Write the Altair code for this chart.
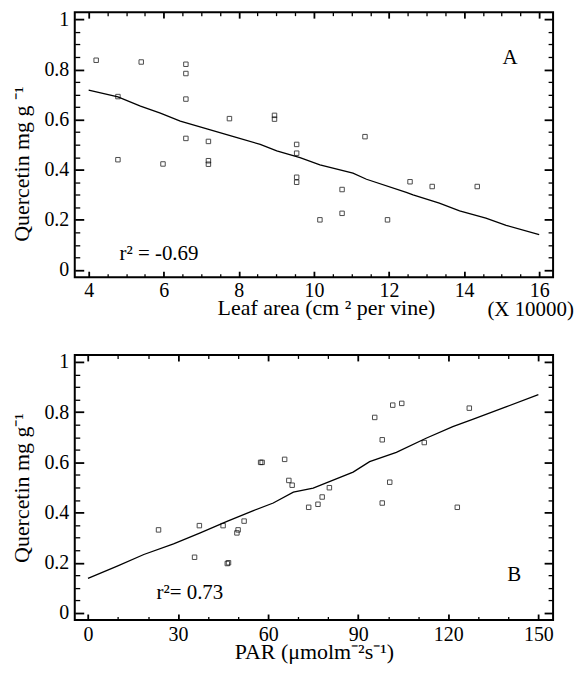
import altair as alt
import pandas as pd

# ---------------- Panel A data ----------------
leaf_area = [4.20, 5.40, 6.59, 6.59, 6.59, 6.59, 4.78, 4.78, 5.98, 7.19, 7.19, 7.19,
             7.75, 8.95, 8.95, 9.54, 9.54, 9.54, 9.54, 11.36, 10.75, 10.75, 10.16,
             11.96, 12.56, 13.15, 14.35]
quercetin_a = [0.837, 0.830, 0.821, 0.784, 0.682, 0.525, 0.692, 0.440, 0.423, 0.513,
               0.436, 0.422, 0.604, 0.617, 0.602, 0.501, 0.466, 0.370, 0.350, 0.532,
               0.321, 0.226, 0.200, 0.200, 0.352, 0.333, 0.333]
fit_a_x = [4.0, 4.78, 5.38, 5.91, 6.44, 7.15, 7.86, 8.57, 9.01, 9.63, 10.16, 11.04,
           11.40, 12.46, 12.64, 13.34, 13.88, 14.58, 15.12, 16.0]
fit_a_y = [0.718, 0.691, 0.654, 0.626, 0.594, 0.563, 0.532, 0.501, 0.475, 0.448,
           0.419, 0.386, 0.362, 0.310, 0.300, 0.267, 0.236, 0.207, 0.178, 0.141]

# ---------------- Panel B data ----------------
par = [23.5, 35.5, 37.1, 45.0, 46.4, 46.8, 49.6, 50.0, 52.0, 57.5, 58.0, 65.5, 66.9,
       68.0, 73.5, 76.6, 78.0, 80.4, 95.5, 98.0, 98.0, 100.5, 101.5, 104.5, 112.0,
       123.0, 127.0]
quercetin_b = [0.331, 0.222, 0.348, 0.348, 0.197, 0.200, 0.319, 0.331, 0.366, 0.600,
               0.600, 0.612, 0.528, 0.509, 0.421, 0.433, 0.462, 0.499, 0.779, 0.690,
               0.438, 0.521, 0.828, 0.835, 0.679, 0.421, 0.816]
fit_b_x = [0, 9.75, 18.6, 28.5, 37.4, 46.3, 55.1, 61.7, 68.4, 75.0, 88.3, 93.8,
           102.7, 112.6, 121.5, 128.1, 139.2, 150]
fit_b_y = [0.138, 0.187, 0.233, 0.275, 0.319, 0.365, 0.408, 0.438, 0.481, 0.497,
           0.561, 0.603, 0.640, 0.696, 0.742, 0.771, 0.821, 0.870]

# ---------------- Axis tick values ----------------
y_major = [0, 0.2, 0.4, 0.6, 0.8, 1]
y_minor = [0.05, 0.1, 0.15, 0.25, 0.3, 0.35, 0.45, 0.5, 0.55, 0.65, 0.7, 0.75,
           0.85, 0.9, 0.95]
xa_major = [4, 6, 8, 10, 12, 14, 16]
xa_minor = [4.5, 5, 5.5, 6.5, 7, 7.5, 8.5, 9, 9.5, 10.5, 11, 11.5, 12.5, 13, 13.5,
            14.5, 15, 15.5]
xb_major = [0, 30, 60, 90, 120, 150]
xb_minor = [10, 20, 40, 50, 70, 80, 100, 110, 130, 140]

# ---------------- Annotations ----------------
ann_a_text = ["A", "r\u00b2 =  -0.69", "(X 10000)"]
ann_a_x = [15.02, 4.82, 14.62]
ann_a_y = [0.824, 0.039, -0.184]
ann_b_text = ["B", "r\u00b2= 0.73"]
ann_b_x = [139.6, 22.8]
ann_b_y = [0.127, 0.056]

FONT = "Liberation Serif"
MAJ_Y, MIN_Y = 9, 5
MAJ_X, MIN_X = 6, 3.5


def axis(orient, values, size, width, labels=False, **kw):
    return alt.Axis(orient=orient, values=values, tickSize=size, offset=-size,
                    domain=False, grid=False, labels=labels, tickColor="black",
                    tickWidth=width, labelFont=FONT, labelFontSize=20,
                    labelColor="black", titleFont=FONT, titleFontSize=22,
                    titleFontWeight="normal", titleColor="black", **kw)


def panel(xs, ys, fx, fy, xdom, ydom, xmaj, xmin, xtitle, ytitle, at, ax_, ay,
          xlabpad, xtitlepad, xtitle_kw, ytitle_kw):
    pts = pd.DataFrame({"x": xs, "y": ys})
    line = pd.DataFrame({"x": fx, "y": fy})
    ann = pd.DataFrame({"x": ax_, "y": ay, "t": at})
    sx = alt.Scale(domain=xdom, nice=False, zero=False)
    sy = alt.Scale(domain=ydom, nice=False, zero=False)

    l1 = alt.Chart(pts).mark_square(size=20, filled=False, stroke="black",
                                    strokeWidth=1).encode(
        x=alt.X("x:Q", scale=sx,
                axis=axis("bottom", xmaj, MAJ_X, 1.8, labels=True, title=xtitle,
                          labelPadding=xlabpad, titlePadding=xtitlepad, **xtitle_kw)),
        y=alt.Y("y:Q", scale=sy,
                axis=axis("left", y_major, MAJ_Y, 1.8, labels=True, title=ytitle,
                          format="~g", labelPadding=6, titlePadding=10, **ytitle_kw)),
    )
    l2 = alt.Chart(line).mark_line(color="black", strokeWidth=1.3).encode(
        x=alt.X("x:Q", scale=sx, axis=axis("bottom", xmin, MIN_X, 1.3, title=None)),
        y=alt.Y("y:Q", scale=sy, axis=axis("left", y_minor, MIN_Y, 1.3, title=None)),
    )
    l3 = alt.Chart(pts).mark_point(opacity=0).encode(
        x=alt.X("x:Q", scale=sx, axis=axis("top", xmaj, MAJ_X, 1.8, title=None)),
        y=alt.Y("y:Q", scale=sy, axis=axis("right", y_major, MAJ_Y, 1.8, title=None)),
    )
    l4 = alt.Chart(pts).mark_point(opacity=0).encode(
        x=alt.X("x:Q", scale=sx, axis=axis("top", xmin, MIN_X, 1.3, title=None)),
        y=alt.Y("y:Q", scale=sy, axis=axis("right", y_minor, MIN_Y, 1.3, title=None)),
    )
    l5 = alt.Chart(ann).mark_text(align="left", baseline="alphabetic", font=FONT,
                                  fontSize=21, color="black").encode(
        x=alt.X("x:Q", scale=sx, axis=None),
        y=alt.Y("y:Q", scale=sy, axis=None),
        text="t:N",
    )
    return alt.layer(l1, l2, l3, l4, l5).resolve_axis(
        x="independent", y="independent").properties(width=480, height=266)


top = panel(leaf_area, quercetin_a, fit_a_x, fit_a_y, [3.63, 16.37], [-0.029, 1.029],
            xa_major, xa_minor, "Leaf area (cm \u00b2 per vine)", "Quercetin mg g \u207b\u00b9",
            ann_a_text, ann_a_x, ann_a_y, 3, -3, {"titleX": 252}, {"titleY": 152})
bottom = panel(par, quercetin_b, fit_b_x, fit_b_y, [-4.4, 154.9], [-0.028, 1.028],
               xb_major, xb_minor, "PAR  (\u03bcmolm\u207b\u00b2s\u207b\u00b9)",
               "Quercetin mg g\u207b\u00b9",
               ann_b_text, ann_b_x, ann_b_y, 5, -3, {}, {})

chart = alt.vconcat(top, bottom, spacing=30).properties(
    padding={"left": 2, "top": -1, "right": 0, "bottom": 0}
).configure_view(stroke="black", strokeWidth=2).configure_axis(
    labelFont=FONT, labelFontSize=20, labelColor="black",
    titleFont=FONT, titleFontSize=22, titleFontWeight="normal", titleColor="black",
)

chart.save("out.html", embed_options={"renderer": "svg", "actions": False})
